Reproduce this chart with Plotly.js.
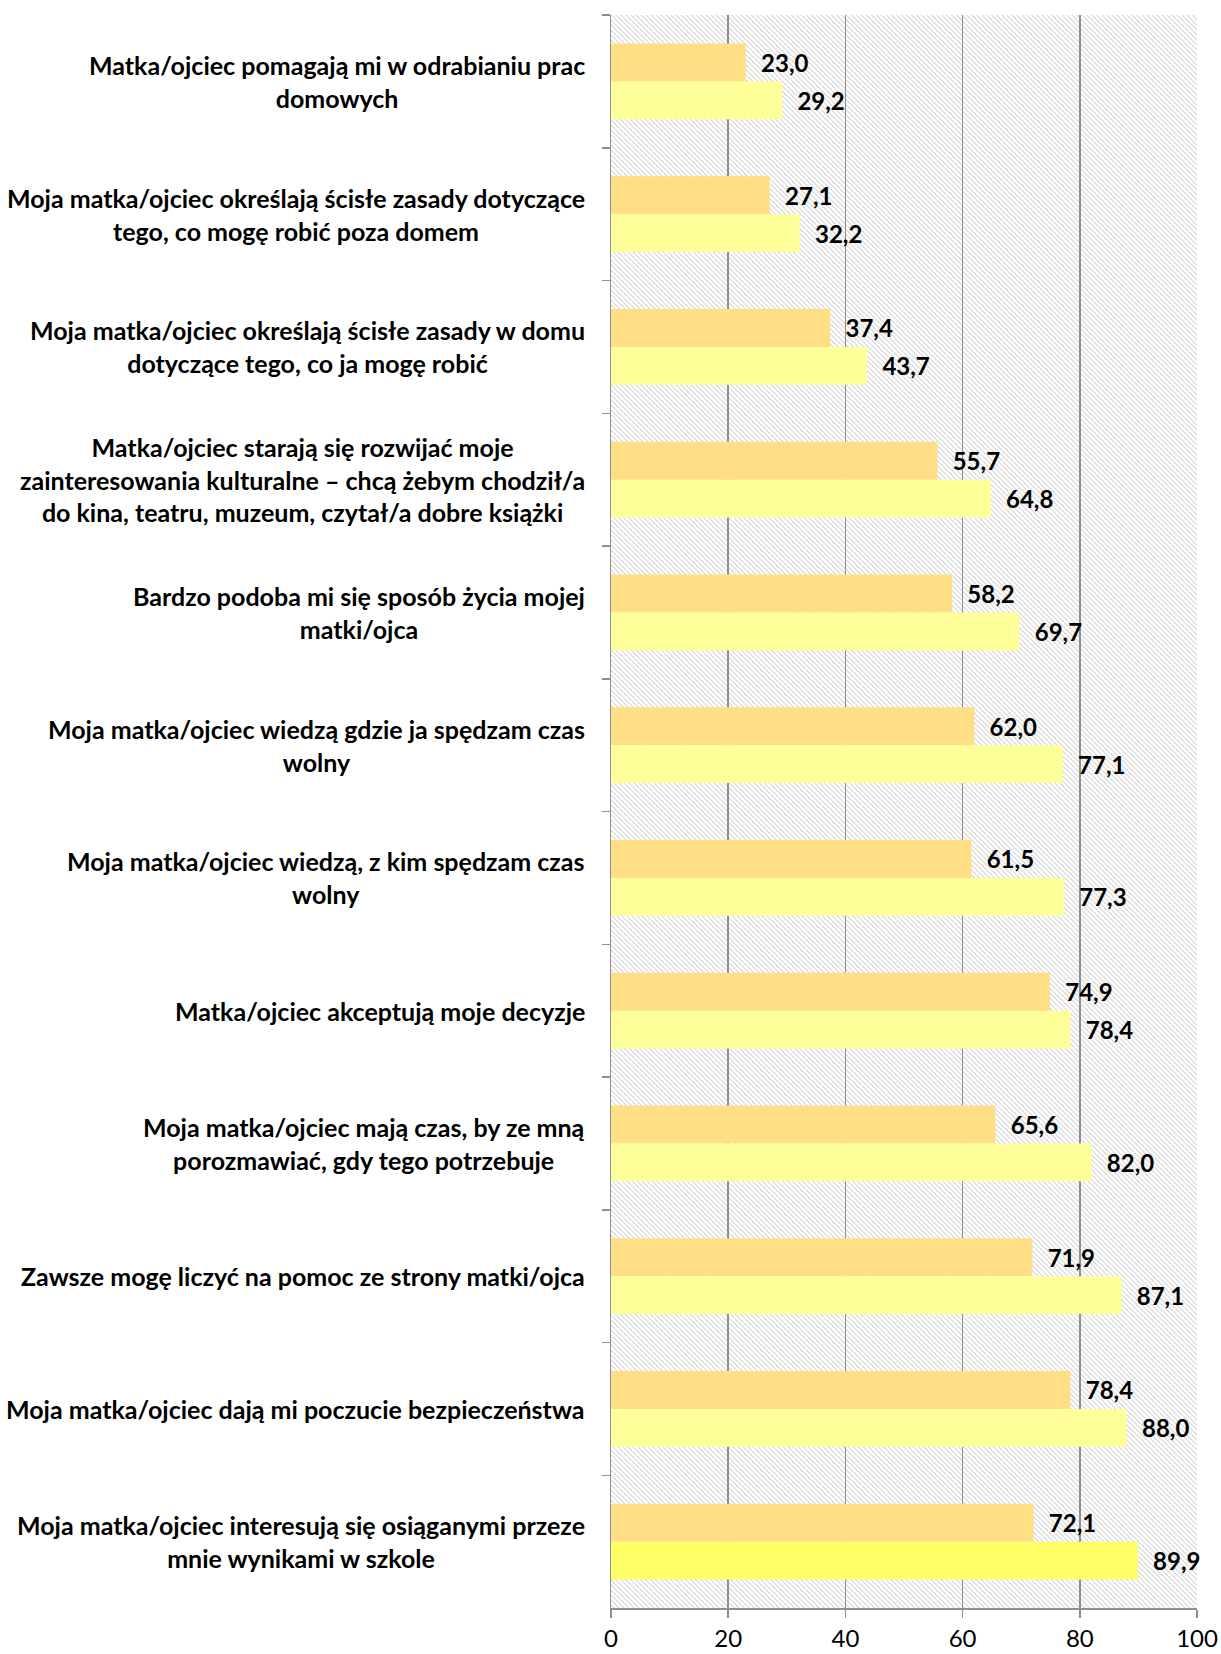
<!DOCTYPE html>
<html>
<head>
<meta charset="utf-8">
<script src="https://cdn.plot.ly/plotly-3.0.1.min.js"></script>
<style>
  html, body { margin: 0; padding: 0; background: #fff; }
  #wykres { width: 1221px; height: 1654px; }
</style>
</head>
<body>
<div id="wykres"></div>
<script>
const kategorie = [
  "Matka/ojciec pomagają mi w odrabianiu prac<br>domowych",
  "Moja matka/ojciec określają ścisłe zasady dotyczące<br>tego, co mogę robić poza domem",
  "Moja matka/ojciec określają ścisłe zasady w domu<br>dotyczące tego, co ja mogę robić",
  "Matka/ojciec starają się rozwijać moje<br>zainteresowania kulturalne – chcą żebym chodził/a<br>do kina, teatru, muzeum, czytał/a dobre książki",
  "Bardzo podoba mi się sposób życia mojej<br>matki/ojca",
  "Moja matka/ojciec wiedzą gdzie ja spędzam czas<br>wolny",
  "Moja matka/ojciec wiedzą, z kim spędzam czas<br>wolny",
  "Matka/ojciec akceptują moje decyzje",
  "Moja matka/ojciec mają czas, by ze mną<br>porozmawiać, gdy tego potrzebuje",
  "Zawsze mogę liczyć na pomoc ze strony matki/ojca",
  "Moja matka/ojciec dają mi poczucie bezpieczeństwa",
  "Moja matka/ojciec interesują się osiąganymi przeze<br>mnie wynikami w szkole"
];
const seria1 = [23.0, 27.1, 37.4, 55.7, 58.2, 62.0, 61.5, 74.9, 65.6, 71.9, 78.4, 72.1];
const seria2 = [29.2, 32.2, 43.7, 64.8, 69.7, 77.1, 77.3, 78.4, 82.0, 87.1, 88.0, 89.9];
const osX = [0, 20, 40, 60, 80, 100];

// hatched plot background (excel-like pattern fill)
const tlo = "<svg xmlns='http://www.w3.org/2000/svg' width='585' height='1593'>" +
  "<defs><pattern id='p' width='5' height='5' patternUnits='userSpaceOnUse'>" +
  "<path d='M0,0 L5,5 M-1,4 L1,6 M4,-1 L6,1' stroke='#d2d2d2' stroke-width='1'/>" +
  "</pattern></defs><rect width='100%' height='100%' fill='#fff'/>" +
  "<rect width='100%' height='100%' fill='url(#p)'/></svg>";

const etykietaFont = { family: "Lato, 'DejaVu Sans', sans-serif", size: 25, color: "#000" };
const liczbyFont = { family: "Lato, sans-serif", size: 24, color: "#000" };

const slupki = [
  {
    type: "bar", orientation: "h", y: kategorie, x: seria1,
    marker: { color: "#FFDE85" },
    texttemplate: "\u00a0\u00a0<b>%{x:.1f}</b>", textposition: "outside",
    textfont: liczbyFont, cliponaxis: false, constraintext: "none", hoverinfo: "x"
  },
  {
    type: "bar", orientation: "h", y: kategorie, x: seria2,
    marker: { color: seria2.map((v, i) => i === seria2.length - 1 ? "#FFFF66" : "#FFFF99") },
    texttemplate: "\u00a0\u00a0<b>%{x:.1f}</b>", textposition: "outside",
    textfont: liczbyFont, cliponaxis: false, constraintext: "none", hoverinfo: "x"
  }
];

const podpisy = kategorie.map(k => ({
  x: 0, xref: "paper", y: k, yref: "y",
  xanchor: "right", yanchor: "middle", xshift: -24,
  text: "<b>" + k.replace(/<br>/g, "</b><br><b>") + "</b>",
  align: "center", showarrow: false, font: etykietaFont
}));

const layout = {
  width: 1221, height: 1654,
  margin: { l: 611, r: 24, t: 15, b: 46 },
  paper_bgcolor: "#fff",
  plot_bgcolor: "rgba(0,0,0,0)",
  separators: ", ",
  barmode: "group", bargap: 0.43, bargroupgap: 0,
  showlegend: false,
  xaxis: {
    range: [0, 100], tickvals: osX, ticktext: osX.map(String),
    showgrid: true, gridcolor: "#8f8f8f", gridwidth: 1.5,
    showline: true, linecolor: "#8f8f8f", linewidth: 1.5,
    ticks: "outside", ticklen: 8, tickcolor: "#8f8f8f", tickwidth: 1.5,
    ticklabelstandoff: 1,
    tickfont: { family: "Lato, sans-serif", size: 24, color: "#000" },
    zeroline: false, fixedrange: true
  },
  yaxis: {
    type: "category", autorange: "reversed",
    showticklabels: false, showgrid: false,
    showline: true, linecolor: "#8f8f8f", linewidth: 1.5,
    ticks: "outside", tickson: "boundaries", ticklen: 8, tickcolor: "#8f8f8f", tickwidth: 1.5,
    zeroline: false, fixedrange: true
  },
  images: [{
    source: "data:image/svg+xml;charset=utf-8," + encodeURIComponent(tlo),
    xref: "paper", yref: "paper", x: 0, y: 1, sizex: 1, sizey: 1,
    xanchor: "left", yanchor: "top", sizing: "stretch", layer: "below"
  }],
  annotations: podpisy
};

Plotly.newPlot("wykres", slupki, layout, { displayModeBar: false, staticPlot: true });
</script>
</body>
</html>
